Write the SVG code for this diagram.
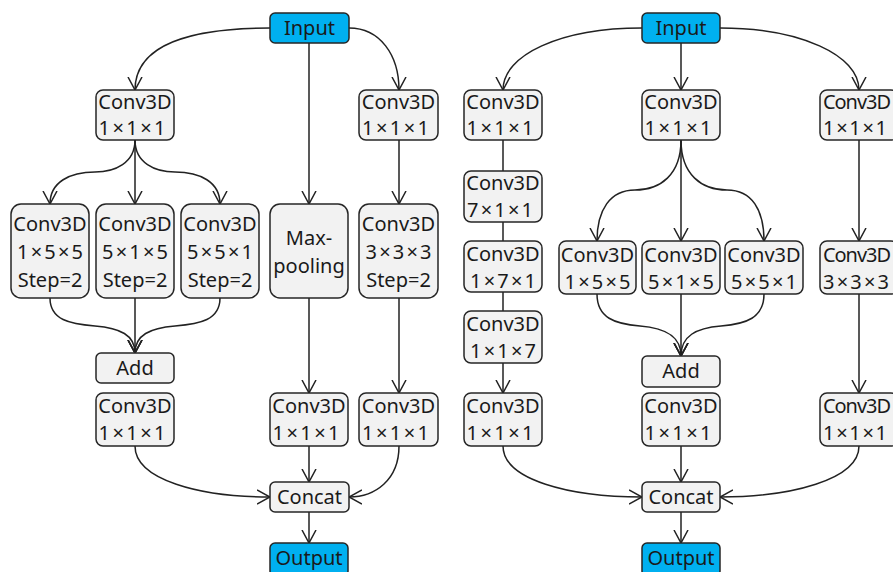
<svg xmlns="http://www.w3.org/2000/svg" width="893" height="572" viewBox="0 0 893 572">
<style>
.b{fill:#F2F2F2;stroke:#262626;stroke-width:1.5}
.io{fill:#00B0F0;stroke:#262626;stroke-width:1.5}
text{font-family:"Noto Sans","DejaVu Sans",sans-serif;font-size:20px;fill:#1a1a1a;text-anchor:middle}
text.s{text-anchor:start}
.c path,.c line{fill:none;stroke:#222;stroke-width:1.5}
.a{marker-end:url(#ar)}
</style>
<defs>
<marker id="ar" viewBox="0 0 14 16" refX="13" refY="8" markerWidth="14" markerHeight="16" markerUnits="userSpaceOnUse" orient="auto">
<path d="M0,1 L13,8 L0,15" fill="none" stroke="#222" stroke-width="1.5"/>
</marker>
</defs>
<rect width="893" height="572" fill="#fff"/>
<g class="c" id="connectors">
<path class="a" d="M270,28 C190,28 135,45 135,90"/>
<path class="a" d="M349,28 C380,28 399,55 399,90"/>
<line class="a" x1="309" y1="43" x2="309" y2="204"/>
<path class="a" d="M135,140 C135,163 115,172 95,172 C70,172 50,182 50,204"/>
<line class="a" x1="135" y1="140" x2="135" y2="204"/>
<path class="a" d="M135,140 C135,163 155,172 175,172 C200,172 220,182 220,204"/>
<line class="a" x1="399" y1="140" x2="399" y2="204"/>
<path class="a" d="M50,298 C50,320 70,324 95,326 C120,328 135,335 135,353"/>
<line class="a" x1="135" y1="298" x2="135" y2="353"/>
<path class="a" d="M220,298 C220,320 200,324 175,326 C150,328 135,335 135,353"/>
<line class="a" x1="309" y1="298" x2="309" y2="393"/>
<line class="a" x1="399" y1="298" x2="399" y2="393"/>
<path class="a" d="M135,446 C135,480 200,497 270,497"/>
<line class="a" x1="309" y1="446" x2="309" y2="482"/>
<path class="a" d="M399,446 C399,480 375,497 349,497"/>
<line class="a" x1="309" y1="512" x2="309" y2="543"/>
<path class="a" d="M642,28 C560,28 503,55 503,90"/>
<line class="a" x1="681" y1="43" x2="681" y2="90"/>
<path class="a" d="M720,28 C800,28 859,55 859,90"/>
<line x1="503" y1="140" x2="503" y2="171"/>
<line x1="503" y1="222" x2="503" y2="241"/>
<line x1="503" y1="292" x2="503" y2="311"/>
<line class="a" x1="503" y1="363" x2="503" y2="393"/>
<path class="a" d="M681,140 C681,175 660,190 635,190 C610,190 597,210 597,241"/>
<line class="a" x1="681" y1="140" x2="681" y2="241"/>
<path class="a" d="M681,140 C681,175 702,190 727,190 C752,190 764,210 764,241"/>
<line class="a" x1="859" y1="140" x2="859" y2="241"/>
<path class="a" d="M597,294 C597,318 615,324 640,326 C665,328 681,336 681,356"/>
<line class="a" x1="681" y1="294" x2="681" y2="356"/>
<path class="a" d="M764,294 C764,318 746,324 721,326 C696,328 681,336 681,356"/>
<line class="a" x1="859" y1="294" x2="859" y2="393"/>
<path class="a" d="M503,446 C503,480 570,497 642,497"/>
<line class="a" x1="681" y1="446" x2="681" y2="482"/>
<path class="a" d="M859,446 C859,480 790,497 720,497"/>
<line class="a" x1="681" y1="512" x2="681" y2="543"/>
</g>
<g id="L_input"><rect class="io" x="270" y="13" width="79" height="30" rx="5"/><text x="309.5" y="35">Input</text></g>
<g id="L_c1"><rect class="b" x="96" y="90" width="78" height="50" rx="7"/><text x="135" y="109">Conv3D</text><text x="132" y="135" textLength="67">1×1×1</text></g>
<g id="L_c2"><rect class="b" x="359" y="90" width="79" height="50" rx="7"/><text x="398.5" y="109">Conv3D</text><text x="395.5" y="135" textLength="67">1×1×1</text></g>
<g id="L_r1"><rect class="b" x="11" y="204" width="78" height="94" rx="10"/><text x="50" y="231">Conv3D</text><text x="50" y="259" textLength="66">1×5×5</text><text x="50" y="287">Step=2</text></g>
<g id="L_r2"><rect class="b" x="96" y="204" width="78" height="94" rx="10"/><text x="135" y="231">Conv3D</text><text x="135" y="259" textLength="66">5×1×5</text><text x="135" y="287">Step=2</text></g>
<g id="L_r3"><rect class="b" x="181" y="204" width="78" height="94" rx="10"/><text x="220" y="231">Conv3D</text><text x="220" y="259" textLength="66">5×5×1</text><text x="220" y="287">Step=2</text></g>
<g id="L_pool"><rect class="b" x="270" y="204" width="78" height="94" rx="10"/><text x="309" y="245">Max-</text><text x="309" y="273">pooling</text></g>
<g id="L_r5"><rect class="b" x="359" y="204" width="79" height="94" rx="10"/><text x="398.5" y="231">Conv3D</text><text x="398.5" y="259" textLength="66">3×3×3</text><text x="398.5" y="287">Step=2</text></g>
<g id="L_add"><rect class="b" x="96" y="353" width="78" height="30" rx="5"/><text x="135" y="375">Add</text></g>
<g id="L_b1"><rect class="b" x="96" y="393" width="78" height="53" rx="7"/><text x="135" y="413">Conv3D</text><text x="132" y="440" textLength="67">1×1×1</text></g>
<g id="L_b2"><rect class="b" x="270" y="393" width="78" height="53" rx="7"/><text x="309" y="413">Conv3D</text><text x="306" y="440" textLength="67">1×1×1</text></g>
<g id="L_b3"><rect class="b" x="359" y="393" width="79" height="53" rx="7"/><text x="398.5" y="413">Conv3D</text><text x="395.5" y="440" textLength="67">1×1×1</text></g>
<g id="L_concat"><rect class="b" x="270" y="482" width="79" height="30" rx="5"/><text x="309.5" y="504">Concat</text></g>
<g id="L_output"><rect class="io" x="270" y="543" width="78" height="33" rx="5"/><text x="309" y="565">Output</text></g>
<g id="R_input"><rect class="io" x="642" y="13" width="78" height="30" rx="5"/><text x="681" y="35">Input</text></g>
<g id="R_c1"><rect class="b" x="464" y="90" width="78" height="50" rx="7"/><text x="503" y="109">Conv3D</text><text x="500" y="135" textLength="67">1×1×1</text></g>
<g id="R_c2"><rect class="b" x="642" y="90" width="78" height="50" rx="7"/><text x="681" y="109">Conv3D</text><text x="678" y="135" textLength="67">1×1×1</text></g>
<g id="R_c3"><rect class="b" x="820" y="90" width="78" height="50" rx="7"/><text class="s" x="823" y="109" textLength="68">Conv3D</text><text class="s" x="823" y="135" textLength="64">1×1×1</text></g>
<g id="R_s1"><rect class="b" x="464" y="171" width="78" height="51" rx="7"/><text x="503" y="190">Conv3D</text><text x="500" y="217" textLength="66">7×1×1</text></g>
<g id="R_s2"><rect class="b" x="464" y="241" width="78" height="51" rx="7"/><text x="503" y="261">Conv3D</text><text x="503" y="288" textLength="66">1×7×1</text></g>
<g id="R_s3"><rect class="b" x="464" y="311" width="78" height="52" rx="7"/><text x="503" y="331">Conv3D</text><text x="503" y="358" textLength="66">1×1×7</text></g>
<g id="R_r1"><rect class="b" x="559" y="241" width="77" height="53" rx="7"/><text x="597.5" y="262">Conv3D</text><text x="597.5" y="289" textLength="66">1×5×5</text></g>
<g id="R_r2"><rect class="b" x="642" y="241" width="78" height="53" rx="7"/><text x="681" y="262">Conv3D</text><text x="681" y="289" textLength="66">5×1×5</text></g>
<g id="R_r3"><rect class="b" x="725" y="241" width="78" height="53" rx="7"/><text x="764" y="262">Conv3D</text><text x="764" y="289" textLength="66">5×5×1</text></g>
<g id="R_r4"><rect class="b" x="820" y="241" width="78" height="53" rx="7"/><text class="s" x="823" y="262" textLength="68">Conv3D</text><text class="s" x="823" y="289" textLength="66">3×3×3</text></g>
<g id="R_add"><rect class="b" x="642" y="356" width="78" height="31" rx="5"/><text x="681" y="378">Add</text></g>
<g id="R_b1"><rect class="b" x="464" y="393" width="78" height="53" rx="7"/><text x="503" y="413">Conv3D</text><text x="500" y="440" textLength="67">1×1×1</text></g>
<g id="R_b2"><rect class="b" x="642" y="393" width="78" height="53" rx="7"/><text x="681" y="413">Conv3D</text><text x="678" y="440" textLength="67">1×1×1</text></g>
<g id="R_b3"><rect class="b" x="820" y="393" width="78" height="53" rx="7"/><text class="s" x="823" y="413" textLength="68">Conv3D</text><text class="s" x="823" y="440" textLength="64">1×1×1</text></g>
<g id="R_concat"><rect class="b" x="642" y="482" width="78" height="30" rx="5"/><text x="681" y="504">Concat</text></g>
<g id="R_output"><rect class="io" x="642" y="543" width="78" height="33" rx="5"/><text x="681" y="565">Output</text></g>
</svg>
